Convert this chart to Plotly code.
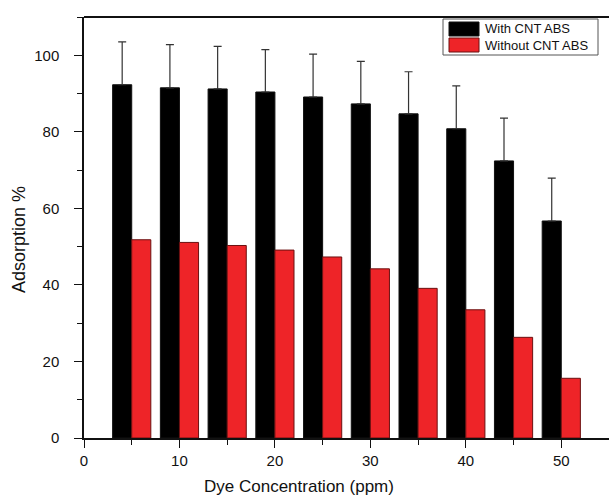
import plotly.graph_objects as go

# Dye concentration (ppm)
concentration = [5, 10, 15, 20, 25, 30, 35, 40, 45, 50]
# Adsorption % with CNT absorbent, and its upper error
with_cnt = [92.3, 91.5, 91.2, 90.4, 89.1, 87.3, 84.7, 80.8, 72.4, 56.7]
with_cnt_err = [11.2, 11.3, 11.1, 11.1, 11.2, 11.1, 11.0, 11.2, 11.2, 11.2]
# Adsorption % without CNT absorbent
without_cnt = [51.8, 51.1, 50.3, 49.1, 47.3, 44.2, 39.1, 33.5, 26.3, 15.6]

series_names = ["With CNT ABS", "Without CNT ABS"]
x_ticks = [0, 10, 20, 30, 40, 50]
y_ticks = [0, 20, 40, 60, 80, 100]

FONT = "Liberation Sans, Arial, sans-serif"
BLACK = "#000000"
RED = "#EE2428"

fig = go.Figure()
fig.add_trace(go.Bar(
    x=concentration, y=with_cnt, name=series_names[0],
    marker=dict(color=BLACK, line=dict(color="#111111", width=1)),
    error_y=dict(type="data", array=with_cnt_err, arrayminus=[0] * len(with_cnt_err),
                 symmetric=False, color="#333333", thickness=1.2, width=4),
))
fig.add_trace(go.Bar(
    x=concentration, y=without_cnt, name=series_names[1],
    marker=dict(color=RED, line=dict(color="#6b1010", width=1)),
))

# Legend box drawn as shapes so the swatches keep their wide rectangular form
L, T = 84, 17
PW, PH = 525, 421
def px(xp):
    return (xp - L) / PW
def py(yp):
    return (T + PH - yp) / PH

shapes = [
    # top frame line
    dict(type="line", xref="paper", yref="paper", x0=0, x1=1, y0=1, y1=1,
         line=dict(color="#111111", width=2), layer="above"),
    dict(type="rect", xref="paper", yref="paper", x0=px(443), x1=px(598), y0=py(55), y1=py(19),
         line=dict(color="#555555", width=1), fillcolor="white", layer="above"),
    dict(type="rect", xref="paper", yref="paper", x0=px(449), x1=px(479), y0=py(36), y1=py(22),
         line=dict(color="#111111", width=1), fillcolor=BLACK, layer="above"),
    dict(type="rect", xref="paper", yref="paper", x0=px(449), x1=px(479), y0=py(52), y1=py(38),
         line=dict(color="#6b1010", width=1), fillcolor=RED, layer="above"),
]
annotations = [
    dict(text=series_names[0], xref="paper", yref="paper", x=px(483), y=py(29),
         xanchor="left", yanchor="middle", showarrow=False,
         font=dict(family=FONT, size=13, color="#111111")),
    dict(text=series_names[1], xref="paper", yref="paper", x=px(483), y=py(45),
         xanchor="left", yanchor="middle", showarrow=False,
         font=dict(family=FONT, size=13, color="#111111")),
    dict(text="Dye Concentration (ppm)", xref="paper", yref="paper", x=px(299), y=py(486),
         xanchor="center", yanchor="middle", showarrow=False,
         font=dict(family=FONT, size=17, color="#111111")),
    dict(text="Adsorption %", xref="paper", yref="paper", x=px(19), y=py(240),
         xanchor="center", yanchor="middle", showarrow=False, textangle=-90,
         font=dict(family=FONT, size=18, color="#111111")),
]

fig.update_layout(
    width=609, height=498,
    margin=dict(l=L, r=0, t=T, b=498 - T - PH),
    paper_bgcolor="white", plot_bgcolor="white",
    barmode="group", bargap=0.2, bargroupgap=0,
    showlegend=False,
    shapes=shapes, annotations=annotations,
    font=dict(family=FONT, size=15, color="#111111"),
)
fig.update_xaxes(
    range=[0, 55], tickvals=x_ticks, ticks="outside", ticklen=8, tickwidth=1.2,
    tickcolor="#111111", showline=True, linecolor="#111111", linewidth=1.5,
    mirror=False, showgrid=False, zeroline=False,
    minor=dict(dtick=5, tick0=0, ticks="outside", ticklen=5, tickcolor="#111111", tickwidth=1.2),
    tickfont=dict(family=FONT, size=15),
)
fig.update_yaxes(
    range=[0, 110], tickvals=y_ticks, ticks="outside", ticklen=8, tickwidth=1.2,
    tickcolor="#111111", showline=True, linecolor="#111111", linewidth=1.5,
    showgrid=False, zeroline=False, ticklabelstandoff=12,
    minor=dict(dtick=10, tick0=0, ticks="outside", ticklen=5, tickcolor="#111111", tickwidth=1.2),
    tickfont=dict(family=FONT, size=15),
)

fig.write_html("out.html")
